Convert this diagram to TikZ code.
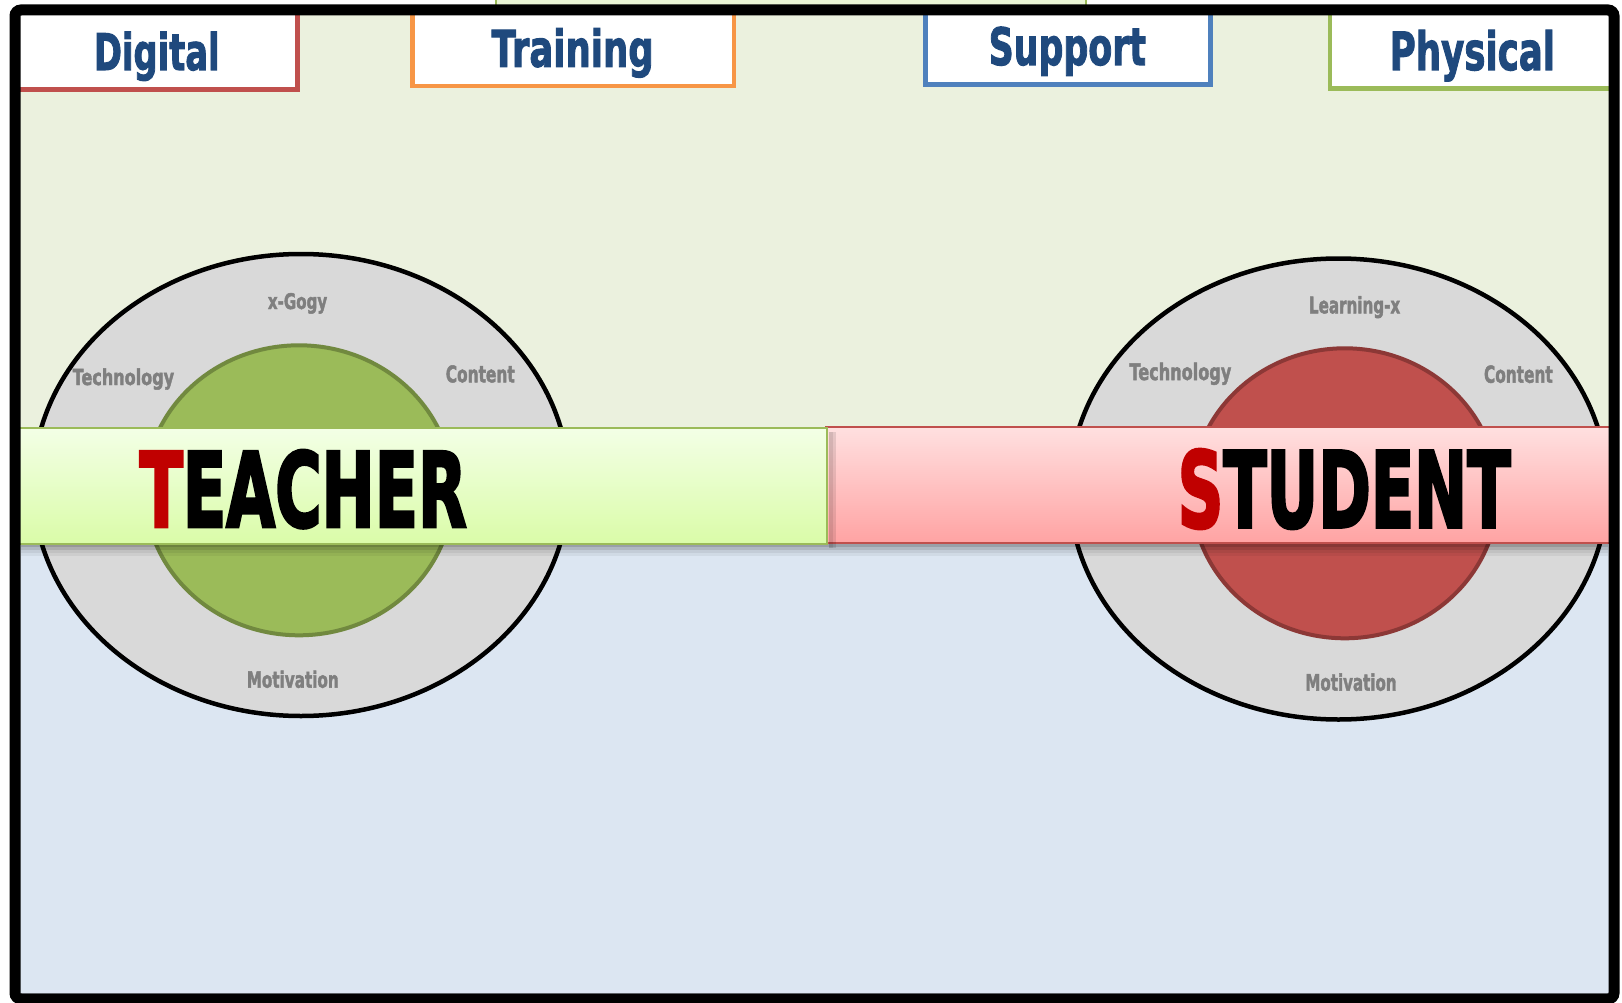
\documentclass[tikz,border=0pt]{standalone}
\usepackage{fontspec}
\usepackage{graphicx}
\usetikzlibrary{shapes.geometric}
\newfontfamily\impact{DejaVu Sans}[BoldFeatures={FakeBold=2.2}]
\newfontfamily\impactheavy{DejaVu Sans}[BoldFeatures={FakeBold=3.2}]
\definecolor{bggreen}{HTML}{EBF1DE}
\definecolor{bgblue}{HTML}{DCE6F2}
\definecolor{navy}{HTML}{1F497D}
\definecolor{tabred}{HTML}{C0504D}
\definecolor{taborange}{HTML}{F79646}
\definecolor{tabblue}{HTML}{4F81BD}
\definecolor{tabgreen}{HTML}{9BBB59}
\definecolor{ringgray}{HTML}{D9D9D9}
\definecolor{labelgray}{HTML}{7F7F7F}
\definecolor{coregreen}{HTML}{9BBB59}
\definecolor{coregreenline}{HTML}{71893F}
\definecolor{corered}{HTML}{C0504D}
\definecolor{coreredline}{HTML}{8C3836}
\definecolor{initial}{HTML}{C00000}
\definecolor{slivergreen}{HTML}{EAF5D5}
\definecolor{gbandtop}{HTML}{F3FFE6}
\definecolor{gbandbot}{HTML}{DAFCA8}
\definecolor{rbandtop}{HTML}{FFE0E0}
\definecolor{rbandbot}{HTML}{FFA3A3}
\newcommand{\fitword}[3]{\resizebox{#1pt}{#2pt}{\impact\bfseries #3}}
\newcommand{\fitheavy}[3]{\resizebox{#1pt}{#2pt}{\impactheavy\bfseries #3}}
\tikzset{
  tabbox/.style={rectangle, draw=#1, fill=white, line width=4.5pt, inner sep=0pt, outer sep=0pt, anchor=north west},
  tabtext/.style={text=navy, inner sep=0pt, outer sep=0pt, anchor=base west},
  ringlabel/.style={text=labelgray, inner sep=0pt, outer sep=0pt, anchor=base west},
  outerring/.style={ellipse, draw=black, line width=4.5pt, fill=ringgray, inner sep=0pt, outer sep=0pt},
  coreshape/.style={ellipse, line width=4pt, inner sep=0pt, outer sep=0pt},
  bandbox/.style={rectangle, line width=2.5pt, inner sep=0pt, outer sep=0pt, anchor=north west},
  bigword/.style={text=black, inner sep=0pt, outer sep=0pt, anchor=base west}
}
\begin{document}
\begin{tikzpicture}[x=1pt, y=-1pt]
\useasboundingbox (0,0) rectangle (1622,1003);
\clip (0,0) rectangle (1622,1003);
% backgrounds
\fill[bggreen] (15,10) rectangle (1614,487);
\fill[bgblue] (15,487) rectangle (1614,999);
\fill[black!35!bgblue] (21,993) rectangle (1608,995);
% sliver of the box above the frame
\node[rectangle, draw=tabgreen, fill=slivergreen, line width=2pt, inner sep=0pt, outer sep=0pt,
      minimum width=590pt, minimum height=30pt, anchor=south west] (topbox) at (496,8) {};
% tabs
\node[tabbox=tabred, minimum width=279.5pt, minimum height=77.5pt] (tabDigital) at (18,12) {};
\node[tabbox=taborange, minimum width=321.5pt, minimum height=74pt] (tabTraining) at (412.5,12) {};
\node[tabbox=tabblue, minimum width=285pt, minimum height=72.5pt] (tabSupport) at (925.5,12) {};
\node[tabbox=tabgreen, minimum width=281pt, minimum height=76.5pt] (tabPhysical) at (1330,12) {};
\node[tabtext] (txtDigital) at (94,70) {\fitword{125.6}{38.3}{Digital}};
\node[tabtext] (txtTraining) at (491.6,66.7) {\fitword{162}{38.4}{Training}};
\node[tabtext] (txtSupport) at (988.7,65) {\fitword{157.3}{38.3}{Support}};
\node[tabtext] (txtPhysical) at (1389.7,70) {\fitword{165.3}{40}{Physical}};
% teacher rings
\node[outerring, minimum width=536pt, minimum height=462pt] (tOuter) at (301,485) {};
\node[coreshape, draw=coregreenline, fill=coregreen, minimum width=308pt, minimum height=290pt] (tInner) at (299,490.3) {};
% student rings
\node[outerring, minimum width=538pt, minimum height=461pt] (sOuter) at (1338.5,489) {};
\node[coreshape, draw=coreredline, fill=corered, minimum width=306pt, minimum height=290pt] (sInner) at (1344.8,493.3) {};
% ring labels
\node[ringlabel] (tGogy) at (267.9,309) {\fitword{59.3}{16}{x-Gogy}};
\node[ringlabel] (tTech) at (72.7,385) {\fitword{101.4}{16.7}{Technology}};
\node[ringlabel] (tCont) at (445.8,382.3) {\fitword{68.9}{17}{Content}};
\node[ringlabel] (tMotiv) at (246.8,687.7) {\fitword{91.9}{17}{Motivation}};
\node[ringlabel] (sLearn) at (1309,313.3) {\fitword{91.2}{17.3}{Learning-x}};
\node[ringlabel] (sTech) at (1129.5,380) {\fitword{101.8}{17.3}{Technology}};
\node[ringlabel] (sCont) at (1484,382.7) {\fitword{68.7}{17.3}{Content}};
\node[ringlabel] (sMotiv) at (1305.4,690.7) {\fitword{91.2}{17.4}{Motivation}};
% band shadow
\fill[black, fill opacity=0.30] (21,544) rectangle (1608,547);
\fill[black, fill opacity=0.20] (21,547) rectangle (1608,550);
\fill[black, fill opacity=0.11] (21,550) rectangle (1608,553);
\fill[black, fill opacity=0.05] (21,553) rectangle (1608,556);
% bands
\node[bandbox, draw=tabred, top color=rbandtop, bottom color=rbandbot, minimum width=784pt, minimum height=116pt] (sBand) at (826,427) {};
\fill[black, fill opacity=0.10] (829,432) rectangle (836,548);
\fill[black, fill opacity=0.08] (829,432) rectangle (833,548);
\node[bandbox, draw=tabgreen, top color=gbandtop, bottom color=gbandbot, minimum width=809pt, minimum height=116pt] (tBand) at (18,428) {};
% big words
\node[bigword] (tWord) at (139.7,526.7) {\fitheavy{327}{76.5}{{\color{initial}T}EACHER}};
\node[bigword] (sWord) at (1177.7,527.3) {\fitheavy{332.7}{78}{{\color{initial}S}TUDENT}};
% outer frame
\draw[line width=11pt, rounded corners=6pt] (15,10) rectangle (1614,999);
\end{tikzpicture}
\end{document}
